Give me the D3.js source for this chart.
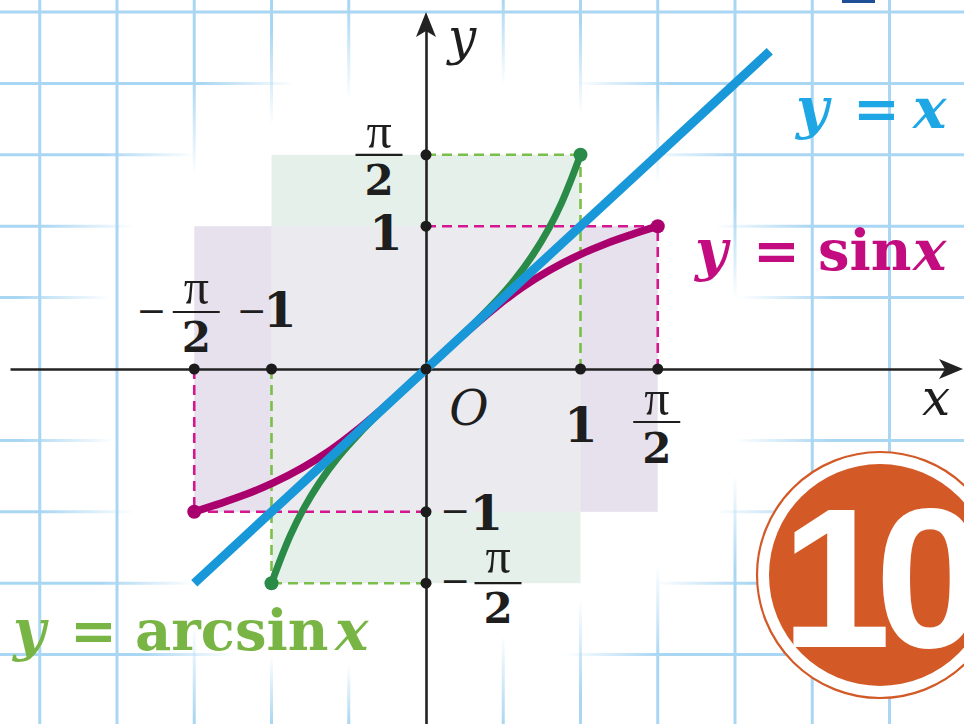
<!DOCTYPE html>
<html><head><meta charset="utf-8">
<script src="https://cdn.jsdelivr.net/npm/d3@7"></script>
<style>html,body{margin:0;padding:0;background:#fff;overflow:hidden}</style>
</head><body>
<svg id="chart" width="964" height="724"></svg>
<script>
// ---------- data ----------
const lineX = [-1.5, 2.225];            // y = x
const lineY = [-1.5, 2.225];
const sinX = [-1.5, -1.33, -1.16, -0.99, -0.80, -0.62, -0.45, -0.29, -0.14, 0, 0.14, 0.29, 0.45, 0.62, 0.80, 0.99, 1.16, 1.33, 1.5];
const sinY = [-1.0, -0.941, -0.876, -0.798, -0.692, -0.570, -0.431, -0.284, -0.139, 0, 0.139, 0.284, 0.431, 0.570, 0.692, 0.798, 0.876, 0.941, 1.0];
const asinX = [-1.0, -0.941, -0.876, -0.798, -0.692, -0.570, -0.431, -0.284, -0.139, 0, 0.139, 0.284, 0.431, 0.570, 0.692, 0.798, 0.876, 0.941, 1.0];
const asinY = [-1.5, -1.33, -1.16, -0.99, -0.80, -0.62, -0.45, -0.29, -0.14, 0, 0.14, 0.29, 0.45, 0.62, 0.80, 0.99, 1.16, 1.33, 1.5];
const xTickValues = [-1.5, -1, 0, 1, 1.5];
const xTickLabels = ["−π/2", "−1", "", "1", "π/2"];
const yTickValues = [1.5, 1, -1, -1.5];
const yTickLabels = ["π/2", "1", "−1", "−π/2"];
const gridXValues = [-2.5, -2, -1.5, -1, -0.5, 0.5, 1, 1.5, 2, 2.5, 3];
const gridYValues = [2.5, 2, 1.5, 1, 0.5, -0.5, -1, -1.5, -2];
const sinBox = [-1.5, 1.5, -1, 1];      // x0, x1, y0, y1
const asinBox = [-1, 1, -1.5, 1.5];
const seriesLabels = ["y = x", "y = sin x", "y = arcsin x"];
const axisNames = ["x", "y", "O"];
const badgeText = "10";

// ---------- setup ----------
const W = 964, H = 724;
const svg = d3.select("#chart");
const x = d3.scaleLinear().domain([-1, 1]).range([271.5, 580.5]);
const y = d3.scaleLinear().domain([-1, 1]).range([511.8, 226.2]);
const serif = "'DejaVu Serif','Liberation Serif',serif";
const piFont = "'Liberation Serif','DejaVu Serif',serif";
const gridColor = "#a9d6f3";
const defs = svg.append("defs");

// ---------- grid (fading toward the centre) ----------
const gridXFade = {"-1.5":[150,650], "-1":[100,680], "-0.5":[75,690], "0.5":[60,660], "1":[90,625], "1.5":[160,590], "2":[275,500]};
const gridYFade = {"2":[270,600], "1.5":[170,670], "1":[110,740], "0.5":[85,765], "-0.5":[90,760], "-1":[110,740], "-1.5":[170,680], "-2":[210,590]};
function fadeGrad(id, horizontal, a, b) {
  const len = horizontal ? W : H;
  const g = defs.append("linearGradient").attr("id", id).attr("gradientUnits", "userSpaceOnUse")
    .attr("x1", 0).attr("y1", 0).attr("x2", horizontal ? W : 0).attr("y2", horizontal ? 0 : H);
  [[a - 70, 1], [a + 25, 0], [b - 25, 0], [b + 70, 1]].forEach(([p, o]) =>
    g.append("stop").attr("offset", Math.max(0, Math.min(1, p / len))).attr("stop-color", gridColor).attr("stop-opacity", o));
  return `url(#${id})`;
}
const grid = svg.append("g");
gridXValues.forEach((v, i) => {
  const f = gridXFade[String(v)];
  grid.append("line").attr("x1", x(v)).attr("x2", x(v)).attr("y1", 0).attr("y2", H)
    .attr("stroke", f ? fadeGrad("gx" + i, false, f[0], f[1]) : gridColor).attr("stroke-width", 3);
});
gridYValues.forEach((v, i) => {
  const f = gridYFade[String(v)];
  grid.append("line").attr("y1", y(v)).attr("y2", y(v)).attr("x1", 0).attr("x2", W)
    .attr("stroke", f ? fadeGrad("gy" + i, true, f[0], f[1]) : gridColor).attr("stroke-width", 3);
});
svg.append("rect").attr("x", 842).attr("y", 0).attr("width", 33).attr("height", 3).attr("fill", "#1f4f97");

// ---------- shaded boxes ----------
const boxes = svg.append("g");
boxes.append("rect").attr("x", x(sinBox[0])).attr("y", y(sinBox[3]))
  .attr("width", x(sinBox[1]) - x(sinBox[0])).attr("height", y(sinBox[2]) - y(sinBox[3])).attr("fill", "#e7e1ed");
boxes.append("rect").attr("x", x(asinBox[0])).attr("y", y(asinBox[3]))
  .attr("width", x(asinBox[1]) - x(asinBox[0])).attr("height", y(asinBox[2]) - y(asinBox[3])).attr("fill", "#e5f0ea");
boxes.append("rect").attr("x", x(asinBox[0])).attr("y", y(sinBox[3]))
  .attr("width", x(asinBox[1]) - x(asinBox[0])).attr("height", y(sinBox[2]) - y(sinBox[3])).attr("fill", "#ebebef");

// ---------- dashed guides ----------
const dash = svg.append("g").attr("fill", "none").attr("stroke-width", 2.6).attr("stroke-dasharray", "10,6");
function guide(px, py, color) {
  dash.append("path").attr("stroke", color).attr("d", `M${x(0)},${y(py)}H${x(px)}`);
  dash.append("path").attr("stroke", color).attr("d", `M${x(px)},${y(0)}V${y(py)}`);
}
guide(sinBox[1], sinBox[3], "#d6168f");
guide(sinBox[0], sinBox[2], "#d6168f");
guide(asinBox[1], asinBox[3], "#7cbf48");
guide(asinBox[0], asinBox[2], "#7cbf48");

// ---------- axes ----------
const xAxisScale = x.copy().domain([x.invert(10), x.invert(950)]).range([10, 950]);
const yAxisScale = y.copy().domain([y.invert(724), y.invert(30)]).range([724, 30]);
svg.append("g").attr("transform", `translate(0,${y(0)})`)
  .call(d3.axisBottom(xAxisScale).tickValues([]).tickSizeOuter(0))
  .call(g => g.select(".domain").attr("stroke", "#222").attr("stroke-width", 2.6));
svg.append("g").attr("transform", `translate(${x(0)},0)`)
  .call(d3.axisLeft(yAxisScale).tickValues([]).tickSizeOuter(0))
  .call(g => g.select(".domain").attr("stroke", "#222").attr("stroke-width", 2.6));
const ox = x(0), oy = y(0);
svg.append("path").attr("fill", "#222").attr("d", `M963,${oy} L939,${oy - 10} L945,${oy} L939,${oy + 10} Z`);
svg.append("path").attr("fill", "#222").attr("d", `M${ox},12 L${ox + 10},37 L${ox},31 L${ox - 10},37 Z`);

// ---------- curves ----------
const curveGen = d3.line().x(d => x(d[0])).y(d => y(d[1])).curve(d3.curveCatmullRom.alpha(0.5));
svg.append("path").datum(d3.zip(sinX, sinY)).attr("d", curveGen)
  .attr("fill", "none").attr("stroke", "#a9006e").attr("stroke-width", 7.5).attr("stroke-linecap", "round");
svg.append("path").datum(d3.zip(asinX, asinY)).attr("d", curveGen)
  .attr("fill", "none").attr("stroke", "#2a8a47").attr("stroke-width", 7).attr("stroke-linecap", "round");
svg.append("path").datum(d3.zip(lineX, lineY)).attr("d", d3.line().x(d => x(d[0])).y(d => y(d[1])))
  .attr("fill", "none").attr("stroke", "#1898d8").attr("stroke-width", 9);

// ---------- dots ----------
const dots = svg.append("g").attr("fill", "#1c1c1c");
xTickValues.forEach(v => dots.append("circle").attr("cx", x(v)).attr("cy", y(0)).attr("r", 5.5));
yTickValues.forEach(v => dots.append("circle").attr("cx", x(0)).attr("cy", y(v)).attr("r", 5.5));
[[sinX[0], sinY[0]], [sinX[sinX.length - 1], sinY[sinY.length - 1]]].forEach(p =>
  svg.append("circle").attr("cx", x(p[0])).attr("cy", y(p[1])).attr("r", 7).attr("fill", "#a9006e"));
[[asinX[0], asinY[0]], [asinX[asinX.length - 1], asinY[asinY.length - 1]]].forEach(p =>
  svg.append("circle").attr("cx", x(p[0])).attr("cy", y(p[1])).attr("r", 7).attr("fill", "#2a8a47"));

// ---------- tick labels ----------
const lab = svg.append("g").attr("font-family", serif).attr("fill", "#1e1e1e");
function drawLabel(label, tx, ty, p) {
  if (!label) return;
  let body = label, neg = false;
  if (body.startsWith("−")) { body = body.slice(1); neg = true; }
  if (body.includes("/")) {
    if (neg) lab.append("text").attr("x", tx + p.mx).attr("y", ty + p.my + 11).attr("text-anchor", "middle")
      .attr("font-size", 36).text("−");
    const [num, den] = body.split("/");
    const cx = tx + p.cx;
    lab.append("text").attr("x", cx).attr("y", ty + p.numB).attr("text-anchor", "middle")
      .attr("font-family", piFont).attr("font-size", 50).text(num);
    lab.append("line").attr("x1", cx - 23.5).attr("x2", cx + 23.5).attr("y1", ty + p.barY).attr("y2", ty + p.barY)
      .attr("stroke", "#1e1e1e").attr("stroke-width", 2.2);
    lab.append("text").attr("x", cx).attr("y", ty + p.denB).attr("text-anchor", "middle").attr("font-size", 42)
      .attr("font-weight", "bold").text(den);
  } else {
    const t = lab.append("text").attr("y", ty + p.b).attr("text-anchor", "middle").attr("font-weight", "bold");
    if (neg) t.append("tspan").attr("x", tx + p.mx).attr("dy", p.my + 11 - p.b).attr("font-size", 36)
      .attr("font-weight", "normal").text("−");
    t.append("tspan").attr("x", tx + p.cx).attr("y", ty + p.b).attr("font-size", 48).text(body);
  }
}
const xLabelPlace = {
  "−π/2": {mx: -43, my: -57, cx: 2, numB: -65, barY: -57, denB: -17},
  "−1": {mx: -20, my: -57, cx: 8.5, b: -42},
  "1": {cx: 0.5, b: 73},
  "π/2": {cx: -1, numB: 46, barY: 53, denB: 94}
};
const yLabelPlace = {
  "π/2": {cx: -47, numB: -7, barY: 0, denB: 40},
  "1": {cx: -40, b: 24},
  "−1": {mx: 29, my: 0, cx: 60.5, b: 18},
  "−π/2": {mx: 29, my: -1, cx: 72, numB: -10, barY: 0, denB: 40}
};
xTickValues.forEach((v, i) => drawLabel(xTickLabels[i], x(v), y(0), xLabelPlace[xTickLabels[i]]));
yTickValues.forEach((v, i) => drawLabel(yTickLabels[i], x(0), y(v), yLabelPlace[yTickLabels[i]]));

// axis names
lab.append("text").attr("x", 936).attr("y", 415).attr("text-anchor", "middle").attr("font-size", 50)
  .attr("font-style", "italic").text(axisNames[0]);
lab.append("text").attr("x", 462).attr("y", 54).attr("text-anchor", "middle").attr("font-size", 50)
  .attr("font-style", "italic").text(axisNames[1]);
lab.append("text").attr("x", 469).attr("y", 425).attr("text-anchor", "middle").attr("font-size", 48)
  .attr("font-style", "italic").text(axisNames[2]);

// ---------- series labels ----------
const labelLayout = [
  {color: "#1ea7e4", xs: [796, 853, 913], base: 128},
  {color: "#c20c80", xs: [695, 753, 818, 913], base: 270},
  {color: "#79b545", xs: [13, 70, 135, 335], base: 650}
];
seriesLabels.forEach((s, i) => {
  const L = labelLayout[i];
  const t = svg.append("text").attr("font-family", serif).attr("font-size", 56).attr("font-weight", "bold")
    .attr("fill", L.color).attr("y", L.base);
  s.split(" ").forEach((part, j) => {
    t.append("tspan").attr("x", L.xs[j])
      .attr("font-style", (part === "x" || part === "y") ? "italic" : "normal").text(part);
  });
});

// ---------- badge ----------
const badge = svg.append("g");
badge.append("circle").attr("cx", 880).attr("cy", 575).attr("r", 123).attr("fill", "#fff")
  .attr("stroke", "#d35a27").attr("stroke-width", 2.2);
badge.append("circle").attr("cx", 880).attr("cy", 575).attr("r", 111).attr("fill", "#d35a27");
badge.append("text").attr("x", 781).attr("y", 647).attr("font-family", "'Liberation Sans',Arial,sans-serif")
  .attr("font-weight", "bold").attr("font-size", 198).attr("letter-spacing", -16).attr("fill", "#fff").text(badgeText);
</script>
</body></html>
